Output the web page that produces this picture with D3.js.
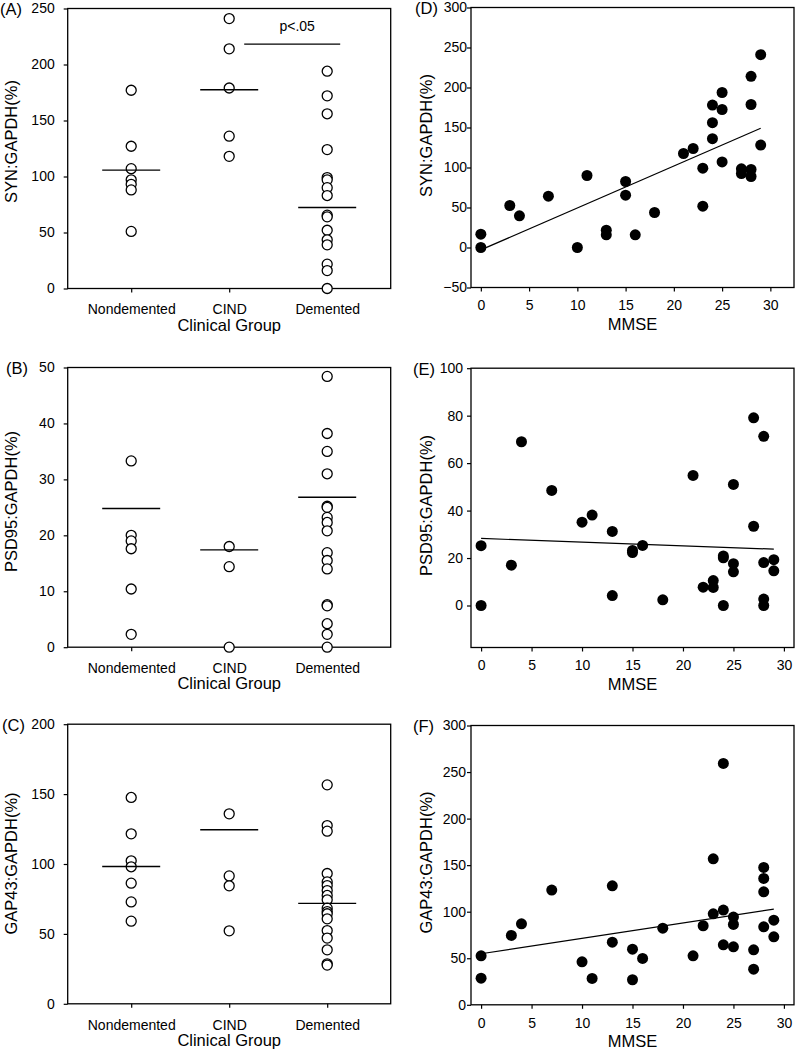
<!DOCTYPE html>
<html><head><meta charset="utf-8">
<script src="https://cdn.jsdelivr.net/npm/d3@7"></script>
<style>
html,body{margin:0;padding:0;background:#fff;}
svg{display:block;font-family:"Liberation Sans",Arial,sans-serif;}
</style></head>
<body>
<svg id="chart" width="795" height="1050"></svg>
<script>
// ---- data ----
const groups = ["Nondemented", "CIND", "Demented"];

const synND = [177, 127, 107, 97, 93, 88, 51];
const synCIND = [241, 214, 179, 136, 118];
const synDem = [194, 172, 156, 124, 99, 97, 90, 83, 65.5, 64, 52, 43.5, 39, 21.7, 16, 0];
const synMeans = [105.7, 177.4, 72.3];
const synSig = 218.2;

const psdND = [33.3, 20, 19, 17.6, 10.4, 2.3];
const psdCIND = [18, 14.4, 0];
const psdDem = [48.4, 38.2, 35, 31, 25.2, 25, 23.2, 22.3, 20.8, 16.9, 15.5, 14, 7.6, 7.4, 4.2, 2.3, 0];
const psdMeans = [24.8, 17.4, 26.8];

const gapND = [147.6, 121.6, 102.3, 98, 86.3, 72.9, 59.1];
const gapCIND = [135.9, 91.5, 84.4, 52.2];
const gapDem = [156.6, 127.5, 123.5, 93.2, 87.2, 84.6, 81, 77.5, 74.4, 68.4, 66, 64.4, 60.8, 52.4, 47, 38.6, 28.6, 27.7];
const gapMeans = [98.2, 124.5, 71.8];

const mmse = [0,0,3,4,7,10,11,13,13,15,15,16,18,21,22,23,23,24,24,24,25,25,25,27,27,28,28,28,28,29,29];
const synVals = [16.7,0,52.5,39.6,64.2,0,90,21.7,15.8,82.5,65.4,15.8,43.75,117.5,123.75,99.2,51.7,178,156,136,193.75,172.5,107,98.3,92.5,214,178.75,97.5,88.75,241,128];
const psdVals = [25.2,0,17,69,48.5,35.1,38.1,31.2,4.2,23.2,22.3,25.3,2.4,54.8,7.7,10.5,7.6,20.9,20.1,0,51,17.6,14.2,79.1,33.4,71.3,18.1,2.7,0,19.3,14.6];
const gapVals = [52.6,28.6,74.5,87,123.2,46.2,28.3,127.8,67.3,59.8,26.9,49.8,82.3,52.6,84.9,156.8,97.7,259.2,101.7,64.4,94.2,86.3,62.3,59.1,38.3,147.5,135.7,121.4,83.8,90.9,73];

const fitX = [0, 29];
const fitSyn = [-3, 149];
const fitPsd = [28.25, 23.75];
const fitGap = [54.8, 102.8];

const ticksA = [0, 50, 100, 150, 200, 250];
const ticksB = [0, 10, 20, 30, 40, 50];
const ticksC = [0, 50, 100, 150, 200];
const ticksD = [-50, 0, 50, 100, 150, 200, 250, 300];
const ticksE = [0, 20, 40, 60, 80, 100];
const ticksF = [0, 50, 100, 150, 200, 250, 300];
const ticksMMSE = [0, 5, 10, 15, 20, 25, 30];

// ---- drawing ----
const root = d3.select("#chart").append("g").attr("transform", "translate(0,1.5)");
const svg = root;
const FS = 14, TS = 16.5;

function frame(g, x0, x1, top, bottom) {
  g.append("rect").attr("x", x0).attr("y", top).attr("width", x1 - x0).attr("height", bottom - top)
    .attr("fill", "none").attr("stroke", "#000").attr("stroke-width", 1.3);
}
function styleAxis(sel) {
  sel.select(".domain").remove();
  sel.selectAll("line").attr("stroke", "#000").attr("stroke-width", 1.2);
  sel.selectAll("text").attr("fill", "#000").style("font-size", FS + "px")
     .style("font-family", "'Liberation Sans',Arial,sans-serif");
}

function leftPanel(o) {
  const g = svg.append("g");
  const x0 = 67.7, x1 = 390.7;
  const x = d3.scalePoint().domain(groups).range([x0, x1]).padding(0.648);
  const y = d3.scaleLinear().domain(o.yDomain).range([o.bottom, o.top]);
  frame(g, x0, x1, o.top, o.bottom);
  g.append("g").attr("transform", `translate(${x0},0)`)
    .call(d3.axisLeft(y).tickValues(o.ticks).tickSize(4).tickPadding(9).tickFormat(d3.format("d")))
    .call(styleAxis);
  g.append("g").attr("transform", `translate(0,${o.bottom})`)
    .call(d3.axisBottom(x).tickSize(4).tickPadding(12))
    .call(styleAxis);
  o.series.forEach((vals, i) => {
    g.selectAll(null).data(vals).enter().append("circle")
      .attr("cx", x(groups[i])).attr("cy", d => y(d)).attr("r", 5)
      .attr("fill", "#fff").attr("stroke", "#000").attr("stroke-width", 1.3);
  });
  g.selectAll(null).data(o.means).enter().append("line")
    .attr("x1", (d, i) => x(groups[i]) - 29).attr("x2", (d, i) => x(groups[i]) + 29)
    .attr("y1", d => y(d)).attr("y2", d => y(d)).attr("stroke", "#000").attr("stroke-width", 1.4);
  if (o.sig !== undefined) {
    g.append("line").attr("x1", x(groups[1]) + 15).attr("x2", x(groups[2]) + 13)
      .attr("y1", y(o.sig)).attr("y2", y(o.sig)).attr("stroke", "#000").attr("stroke-width", 1.3);
    g.append("text").attr("x", (x(groups[1]) + x(groups[2])) / 2 + 19).attr("y", y(o.sig) - 13)
      .attr("text-anchor", "middle").style("font-size", FS + "px").text("p<.05");
  }
  g.append("text").attr("x", (x0 + x1) / 2).attr("y", o.bottom + 42).attr("text-anchor", "middle")
    .style("font-size", TS + "px").text("Clinical Group");
  g.append("text").attr("transform", `translate(${17},${o.ytc}) rotate(-90)`).attr("text-anchor", "middle")
    .style("font-size", TS + "px").text(o.ytitle);
  g.append("text").attr("x", o.lx).attr("y", o.top + 6.5).style("font-size", TS + "px").text(o.label);
}

function rightPanel(o) {
  const g = svg.append("g");
  const x0 = 471, x1 = 794;
  const x = d3.scaleLinear().domain(o.xDomain).range([x0, x1]);
  const y = d3.scaleLinear().domain(o.yDomain).range([o.bottom, o.top]);
  frame(g, x0, x1, o.top, o.bottom);
  g.append("g").attr("transform", `translate(${x0},0)`)
    .call(d3.axisLeft(y).tickValues(o.ticks).tickSize(4).tickPadding(o.tp).tickFormat(d3.format("d")))
    .call(styleAxis);
  g.append("g").attr("transform", `translate(0,${o.bottom})`)
    .call(d3.axisBottom(x).tickValues(ticksMMSE).tickSize(4).tickPadding(9).tickFormat(d3.format("d")))
    .call(styleAxis);
  const clipId = "clip" + o.label.replace(/\W/g, "");
  d3.select("#chart").append("clipPath").attr("id", clipId).append("rect")
    .attr("x", x0).attr("y", o.top - 6).attr("width", x1 - x0).attr("height", o.bottom - o.top + 6);
  const pts = g.append("g").attr("clip-path", `url(#${clipId})`);
  pts.selectAll(null).data(mmse.map((m, i) => [m, o.vals[i]])).enter().append("circle")
    .attr("cx", d => x(d[0])).attr("cy", d => y(d[1])).attr("r", 5.5).attr("fill", "#000");
  g.append("path").datum(fitX.map((v, i) => [v, o.fit[i]]))
    .attr("d", d3.line().x(d => x(d[0])).y(d => y(d[1])))
    .attr("fill", "none").attr("stroke", "#000").attr("stroke-width", 1.2);
  g.append("text").attr("x", (x0 + x1) / 2).attr("y", o.bottom + 42).attr("text-anchor", "middle")
    .style("font-size", TS + "px").text("MMSE");
  g.append("text").attr("transform", `translate(${432},${o.ytc}) rotate(-90)`).attr("text-anchor", "middle")
    .style("font-size", TS + "px").text(o.ytitle);
  g.append("text").attr("x", o.lx).attr("y", o.top + 6.5).style("font-size", TS + "px").text(o.label);
}

leftPanel({ top: 7, bottom: 287, yDomain: [0, 250], ticks: ticksA, series: [synND, synCIND, synDem],
  means: synMeans, sig: synSig, ytitle: "SYN:GAPDH(%)", ytc: 140, label: "(A)", lx: 0 });
leftPanel({ top: 366, bottom: 645.7, yDomain: [0, 50], ticks: ticksB, series: [psdND, psdCIND, psdDem],
  means: psdMeans, ytitle: "PSD95:GAPDH(%)", ytc: 500, label: "(B)", lx: 6 });
leftPanel({ top: 722.7, bottom: 1002.3, yDomain: [0, 200], ticks: ticksC, series: [gapND, gapCIND, gapDem],
  means: gapMeans, ytitle: "GAP43:GAPDH(%)", ytc: 862, label: "(C)", lx: 2 });

rightPanel({ top: 6, bottom: 286, xDomain: [-1.02, 32.45], yDomain: [-50, 300], ticks: ticksD, tp: 0,
  vals: synVals, fit: fitSyn, ytitle: "SYN:GAPDH(%)", ytc: 134, label: "(D)", lx: 415 });
rightPanel({ top: 366.7, bottom: 646, xDomain: [-1, 31], yDomain: [-17.7, 100], ticks: ticksE, tp: 4,
  vals: psdVals, fit: fitPsd, ytitle: "PSD95:GAPDH(%)", ytc: 504, label: "(E)", lx: 413 });
rightPanel({ top: 724, bottom: 1003.3, xDomain: [-1, 31], yDomain: [0, 300], ticks: ticksF, tp: 1,
  vals: gapVals, fit: fitGap, ytitle: "GAP43:GAPDH(%)", ytc: 861, label: "(F)", lx: 413 });
</script>
</body></html>
